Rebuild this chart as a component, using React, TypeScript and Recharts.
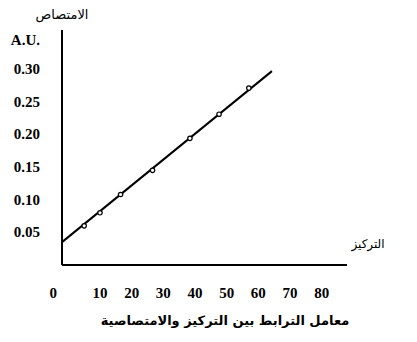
import React from "react";
import { ComposedChart, Line, Scatter, XAxis, YAxis, Label } from "recharts";

// Measured concentration / absorbance readings
const concentrations = [5, 10, 16.5, 26.6, 38.4, 47.6, 57];
const absorbances = [0.06, 0.08, 0.108, 0.145, 0.194, 0.231, 0.271];

// End points of the calibration line
const fitX = [-2, 64.3];
const fitY = [0.035, 0.297];

const xTicks = [0, 10, 20, 30, 40, 50, 60, 70, 80];
const yTicks = [0.05, 0.1, 0.15, 0.2, 0.25, 0.3];

const points = concentrations.map((x, i) => ({ x, y: absorbances[i] }));
const fitLine = fitX.map((x, i) => ({ x, y: fitY[i] }));

const tickFont = "'Liberation Serif', 'Times New Roman', serif";
const arabicFont = "'DejaVu Sans', 'Noto Sans', sans-serif";

const renderXTick = (props: any) => {
  const { x, y, payload } = props;
  // the origin label sits left of the y axis
  const shift = payload.value === 0 ? -15 : 0;
  return (
    <g>
      <text
        x={x + shift}
        y={y + 33}
        textAnchor="middle"
        fontSize={15}
        fontFamily={tickFont}
        fontWeight={700}
        fill="#000"
      >
        {String(payload.value)}
      </text>
    </g>
  );
};

const renderYTick = (props: any) => {
  const { x, y, payload } = props;
  return (
    <g>
      <text
        x={x - 22}
        y={y + 5}
        textAnchor="end"
        fontSize={15}
        fontFamily={tickFont}
        fontWeight={700}
        fill="#000"
      >
        {Number(payload.value).toFixed(2)}
      </text>
    </g>
  );
};

const renderDot = (props: any) => (
  <circle cx={props.cx} cy={props.cy} r={2.2} fill="#fff" stroke="#000" strokeWidth={1.2} />
);

export default function App() {
  return (
    <div
      style={{
        position: "absolute",
        left: 0,
        top: 0,
        width: 417,
        height: 342,
        background: "#fff",
      }}
    >
      <ComposedChart
        width={417}
        height={342}
        margin={{ top: 30, right: 70, bottom: 0, left: 0 }}
      >
        <XAxis
          type="number"
          dataKey="x"
          domain={[-2, 88]}
          ticks={xTicks}
          interval={0}
          tick={renderXTick}
          tickLine={false}
          tickSize={0}
          tickMargin={0}
          height={77}
          axisLine={{ stroke: "#000", strokeWidth: 2 }}
          allowDataOverflow
        >
          <Label
            content={(p: any) => (
              <text
                x={p.viewBox.x + p.viewBox.width + 21}
                y={p.viewBox.y - 17}
                textAnchor="middle"
                fontFamily={arabicFont}
                fontSize={12}
                fill="#000"
              >
                التركيز
              </text>
            )}
          />
          <Label
            content={(p: any) => (
              <text
                x={225}
                y={p.viewBox.y + 60}
                textAnchor="middle"
                fontFamily={arabicFont}
                fontSize={13}
                fontWeight={700}
                fill="#000"
              >
                معامل الترابط بين التركيز والامتصاصية
              </text>
            )}
          />
        </XAxis>
        <YAxis
          type="number"
          dataKey="y"
          domain={[0, 0.36]}
          ticks={yTicks}
          interval={0}
          tick={renderYTick}
          tickLine={false}
          tickSize={0}
          tickMargin={0}
          width={62}
          axisLine={{ stroke: "#000", strokeWidth: 2 }}
          allowDataOverflow
        >
          <Label
            content={(p: any) => (
              <g>
                <text
                  x={p.viewBox.x + p.viewBox.width}
                  y={p.viewBox.y - 11}
                  textAnchor="middle"
                  fontFamily={arabicFont}
                  fontSize={13}
                  fill="#000"
                >
                  الامتصاص
                </text>
                <text
                  x={p.viewBox.x + p.viewBox.width - 22}
                  y={p.viewBox.y + 15}
                  textAnchor="end"
                  fontFamily={tickFont}
                  fontSize={15}
                  fontWeight={700}
                  fill="#000"
                >
                  A.U.
                </text>
              </g>
            )}
          />
        </YAxis>
        <Line
          data={fitLine}
          dataKey="y"
          type="linear"
          stroke="#000"
          strokeWidth={2}
          dot={false}
          isAnimationActive={false}
        />
        <Scatter
          data={points}
          dataKey="y"
          shape={renderDot}
          isAnimationActive={false}
        />
      </ComposedChart>
    </div>
  );
}
